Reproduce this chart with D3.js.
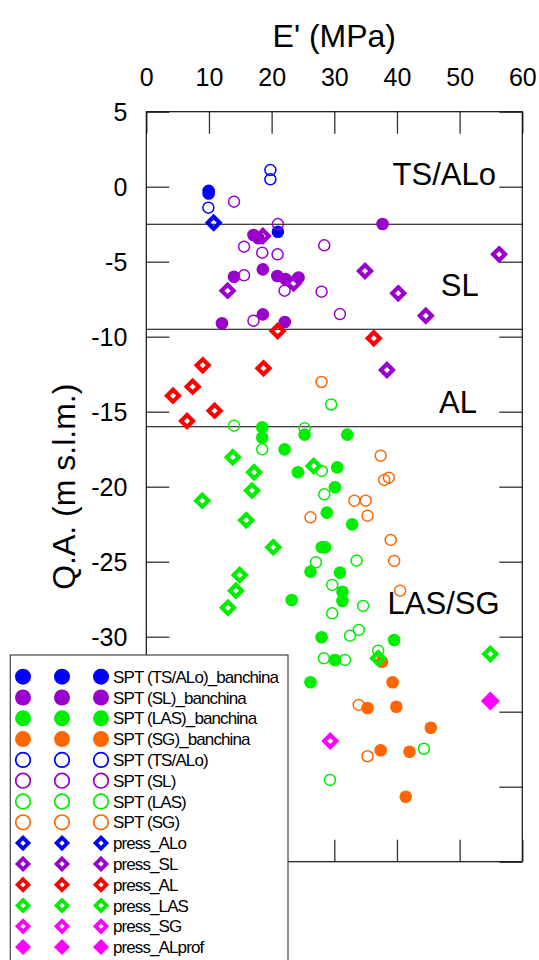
<!DOCTYPE html>
<html><head><meta charset="utf-8">
<script src="https://cdn.jsdelivr.net/npm/d3@7"></script>
<style>
html,body{margin:0;padding:0;background:#fff;}
svg{display:block;font-family:"Liberation Sans",Arial,sans-serif;}
</style></head>
<body>
<svg id="chart" width="539" height="960"></svg>
<script>
// ---- data: [E' (MPa), Q.A. (m s.l.m.)] ----
const sptTSALoBanchina = [[9.95,-0.28],[9.95,-0.45],[21.0,-3.0]];
const sptSLBanchina = [[17.1,-3.22],[17.9,-3.44],[18.6,-5.51],[14.0,-6.0],[20.9,-5.95],[22.2,-6.15],[24.3,-6.05],[12.07,-9.1],[18.6,-8.51],[22.1,-9.02],[37.7,-2.49]];
const sptLASBanchina = [[18.5,-16.04],[18.5,-16.73],[22.07,-17.51],[25.26,-16.53],[32.06,-16.53],[24.2,-19.04],[30.46,-18.71],[30.1,-20.04],[28.8,-21.73],[32.85,-22.51],[28.0,-24.04],[28.5,-24.04],[26.2,-25.66],[30.9,-25.73],[31.3,-27.0],[31.3,-27.62],[23.2,-27.55],[27.97,-30.04],[39.55,-30.22],[30.1,-31.55],[26.2,-33.04]];
const sptSGBanchina = [[37.6,-31.67],[39.3,-33.04],[35.3,-34.75],[39.9,-34.67],[45.4,-36.07],[37.4,-37.57],[42.0,-37.67],[41.4,-40.67]];
const sptTSALo = [[9.9,-1.4],[19.8,1.11],[19.8,0.49]];
const sptSL = [[14.0,-1.0],[21.0,-2.49],[15.6,-4.0],[18.5,-4.4],[20.95,-4.51],[28.4,-3.91],[15.6,-5.91],[22.07,-6.93],[27.97,-7.0],[17.1,-8.93],[30.9,-8.49]];
const sptLAS = [[14.0,-15.93],[18.5,-17.51],[25.26,-16.11],[29.5,-14.52],[28.0,-18.95],[28.4,-20.51],[27.07,-25.04],[33.55,-24.93],[29.67,-26.55],[34.6,-27.95],[29.67,-28.44],[33.9,-29.55],[32.5,-29.93],[37.0,-30.93],[28.34,-31.44],[31.7,-31.55],[29.3,-39.55],[44.3,-37.47]];
const sptSG = [[27.97,-13.02],[37.4,-17.93],[37.96,-19.55],[38.7,-19.4],[33.2,-20.93],[35.0,-20.93],[26.2,-22.04],[35.3,-21.93],[39.0,-23.55],[39.55,-24.95],[40.5,-26.93],[33.9,-34.55],[35.3,-37.97]];
const pressALo = [[10.75,-2.4]];
const pressSL = [[12.98,-6.93],[18.6,-3.29],[23.5,-6.44],[34.9,-5.62],[40.2,-7.11],[44.6,-8.6],[56.3,-4.51],[38.4,-12.22]];
const pressAL = [[20.96,-9.62],[36.3,-10.1],[9.0,-11.91],[18.7,-12.11],[7.4,-13.33],[4.26,-13.93],[10.9,-14.93],[6.5,-15.62]];
const pressLAS = [[26.7,-18.62],[13.8,-18.04],[17.2,-19.04],[16.86,-20.26],[8.93,-20.93],[15.95,-22.24],[20.26,-24.04],[14.9,-25.89],[14.3,-26.93],[13.03,-28.07],[37.0,-31.44],[54.9,-31.15]];
const pressSG = [[29.35,-36.95]];
const pressALprof = [[54.9,-34.29]];

const xTickValues = [0,10,20,30,40,50,60];
const yTickValues = [5,0,-5,-10,-15,-20,-25,-30,-35,-40,-45];
const yTickLabels = ["5","0","-5","-10","-15","-20","-25","-30","","",""]; // lower ones hidden by legend
const boundaryLines = [-2.5,-9.5,-16];
const zoneLabels = ["TS/ALo","SL","AL","LAS/SG"];
const zoneLabelPos = [[39.3,0.1],[47.0,-7.3],[46.7,-15.06],[38.5,-28.51]];

const seriesNames = ["SPT (TS/ALo)_banchina","SPT (SL)_banchina","SPT (LAS)_banchina","SPT (SG)_banchina",
  "SPT (TS/ALo)","SPT (SL)","SPT (LAS)","SPT (SG)",
  "press_ALo","press_SL","press_AL","press_LAS","press_SG","press_ALprof"];
const seriesData = [sptTSALoBanchina,sptSLBanchina,sptLASBanchina,sptSGBanchina,
  sptTSALo,sptSL,sptLAS,sptSG,pressALo,pressSL,pressAL,pressLAS,pressSG,pressALprof];
const seriesColors = ["#0000ff","#9900cc","#00ee00","#ff6600","#0000ff","#9900cc","#00ee00","#ff6600",
  "#0000ff","#9900cc","#ff0000","#00ee00","#ff00ff","#ff00ff"];
const seriesShapes = ["dot","dot","dot","dot","ring","ring","ring","ring",
  "diamond","diamond","diamond","diamond","diamond","fdiamond"];

// ---- layout ----
const svg = d3.select("#chart");
const L = 146.3, R = 522.3, T = 111.7, B = 861.7;
const x = d3.scaleLinear().domain([0,60]).range([L,R]);
const y = d3.scaleLinear().domain([5,-45]).range([T,B]);
const tickColor = "#333";

// axes with inward ticks
const gTop = svg.append("g").attr("transform",`translate(0,${T})`)
  .call(d3.axisTop(x).tickValues(xTickValues).tickSizeInner(-22).tickSizeOuter(0).tickPadding(26)
    .tickFormat(d=>String(d)));
const gBot = svg.append("g").attr("transform",`translate(0,${B})`)
  .call(d3.axisBottom(x).tickValues(xTickValues).tickSizeInner(-22).tickSizeOuter(0).tickFormat(""));
const gLeft = svg.append("g").attr("transform",`translate(${L},0)`)
  .call(d3.axisLeft(y).tickValues(yTickValues).tickSizeInner(-23).tickSizeOuter(0).tickPadding(42)
    .tickFormat((d,i)=>yTickLabels[i]));
const gRight = svg.append("g").attr("transform",`translate(${R},0)`)
  .call(d3.axisRight(y).tickValues(yTickValues).tickSizeInner(-23).tickSizeOuter(0).tickFormat(""));
[gTop,gBot,gLeft,gRight].forEach(g=>{
  g.select(".domain").remove();
  g.selectAll(".tick line").attr("stroke",tickColor).attr("stroke-width",1.3);
  g.selectAll(".tick text").attr("fill","#000").style("font-size","25px")
    .style("font-family","'Liberation Sans',Arial,sans-serif");
  g.selectAll(".tick text").filter(function(){return this.textContent==="";}).remove();
});
gTop.selectAll(".tick text").attr("dy",0);
gLeft.selectAll(".tick text").attr("x",-19).attr("dy","0.35em");

// frame
svg.append("rect").attr("x",L).attr("y",T).attr("width",R-L).attr("height",B-T)
  .attr("fill","none").attr("stroke","#111").attr("stroke-width",1.2);

// boundary lines
svg.append("g").selectAll("line").data(boundaryLines).join("line")
  .attr("x1",L).attr("x2",R).attr("y1",d=>y(d)).attr("y2",d=>y(d))
  .attr("stroke","#000").attr("stroke-width",1.1);

// zone labels
svg.append("g").selectAll("text").data(zoneLabels).join("text")
  .attr("x",(d,i)=>x(zoneLabelPos[i][0])).attr("y",(d,i)=>y(zoneLabelPos[i][1]))
  .style("font-size","31px").attr("fill","#000").text(d=>d);

// titles
svg.append("text").attr("x",(L+R)/2).attr("y",46.7).attr("text-anchor","middle")
  .style("font-size","32px").text("E' (MPa)");
svg.append("text").attr("transform",`translate(75,${(T+B)/2}) rotate(-90)`)
  .attr("text-anchor","middle").style("font-size","32px").text("Q.A. (m s.l.m.)");

// marker drawing
function diamondPath(h){ return `M0,${-h}L${h},0L0,${h}L${-h},0Z`; }
function drawMarker(g, shape, color, big){
  if(shape==="dot"){
    g.append("circle").attr("r",big?8:6.3).attr("fill",color);
  } else if(shape==="ring"){
    g.append("circle").attr("r",big?7.3:5.5).attr("fill","none").attr("stroke",color).attr("stroke-width",big?1.7:1.5);
  } else if(shape==="diamond"){
    g.append("path").attr("d",diamondPath(big?5.4:6)).attr("fill","none").attr("stroke",color)
      .attr("stroke-width",big?3.8:4.2).attr("stroke-linejoin","miter");
  } else {
    g.append("path").attr("d",diamondPath(big?8:9.5)).attr("fill",color);
  }
}

const plotG = svg.append("g");
seriesData.forEach((data,i)=>{
  const sg = plotG.append("g");
  sg.selectAll("g").data(data).join("g")
    .attr("transform",d=>`translate(${x(d[0])},${y(d[1])})`)
    .each(function(){ drawMarker(d3.select(this), seriesShapes[i], seriesColors[i], false); });
});

// legend
const legTop = 655, legRowY0 = 676.7, legStep = 20.8;
const legendG = svg.append("g");
legendG.append("rect").attr("x",10.3).attr("y",legTop).attr("width",277.7).attr("height",330)
  .attr("fill","#fff").attr("stroke","#444").attr("stroke-width",1.2);
const symbolX = [23,62,101];
seriesNames.forEach((name,i)=>{
  const cy = legRowY0 + i*legStep;
  symbolX.forEach(sx=>{
    const g = legendG.append("g").attr("transform",`translate(${sx},${cy})`);
    drawMarker(g, seriesShapes[i], seriesColors[i], true);
  });
  legendG.append("text").attr("x",113).attr("y",cy+6).style("font-size","17px")
    .style("letter-spacing","-0.9px").attr("fill","#000").text(name);
});
</script>
</body></html>
